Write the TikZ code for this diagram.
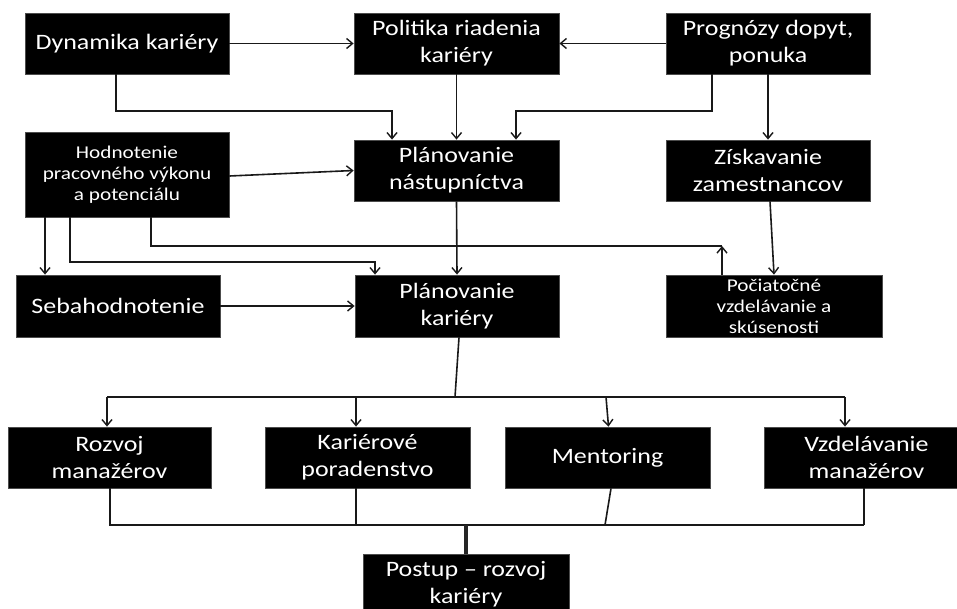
\documentclass[tikz,border=0pt]{standalone}
\usepackage{fontspec}
\setmainfont{Carlito}[FakeStretch=1.18]
\usetikzlibrary{arrows.meta}
\begin{document}
\begin{tikzpicture}[x=1pt,y=-1pt,
  box/.style={fill=black, draw=black!70, line width=0.8pt, text=white,
    inner sep=0pt, align=center, minimum width=205pt, minimum height=61pt,
    font=\fontsize{22}{27}\selectfont},
  smallbox/.style={box, font=\fontsize{18}{21}\selectfont},
  link/.style={draw=black!90, line width=1.6pt},
  arr/.style={link, -{Straight Barb[length=6pt,width=10pt,line width=1.4pt]}},
  bus/.style={draw=black!85, line width=3.2pt}]
\fill[white] (0,0) rectangle (957,609);
\clip (0,0) rectangle (957,609);

% first row
\node[box, minimum width=204pt] (dyn) at (127,43.5) {Dynamika kariéry};
\node[box] (pol) at (456.5,43.5) {Politika riadenia\\kariéry};
\node[box, minimum width=204pt] (prog) at (768,43.5) {Prognózy dopyt,\\ponuka};

% second row
\node[smallbox, minimum width=204pt, minimum height=85pt] (hod) at (127,174.5)
  {Hodnotenie\\pracovného výkonu\\a potenciálu};
\node[box] (plnas) at (456.5,170.5) {Plánovanie\\nástupníctva};
\node[box, minimum width=204pt] (zisk) at (768,170.5) {Získavanie\\zamestnancov};

% third row
\node[box, minimum width=204pt, minimum height=62pt] (seba) at (118,306) {Sebahodnotenie};
\node[box, minimum width=204pt, minimum height=62pt] (plkar) at (457,306) {Plánovanie\\kariéry};
\node[smallbox, minimum width=216pt, minimum height=62pt] (poc) at (774,306)
  {Počiatočné\\vzdelávanie a\\skúsenosti};

% fourth row
\node[box, minimum width=203pt] (rozv) at (109.5,457.5) {Rozvoj\\manažérov};
\node[box] (karp) at (367.5,457.5) {Kariérové\\poradenstvo};
\node[box] (ment) at (607.5,457.5) {Mentoring};
\node[box] (vzd) at (866.5,457.5) {Vzdelávanie\\manažérov};

% result
\node[box, minimum width=206pt] (post) at (466,584.5) {Postup – rozvoj\\kariéry};

% connectors of the upper part
\draw[arr] (dyn.east) -- (pol.west);
\draw[arr] (prog.west) -- (pol.east);
\draw[arr] ([xshift=-11pt]dyn.south) |- (392,111) -- ([xshift=-64.5pt]plnas.north);
\draw[arr] (pol.south) -- (plnas.north);
\draw[arr] ([xshift=-56pt]prog.south) |- (516,111) -- ([xshift=59.5pt]plnas.north);
\draw[arr] (prog.south) -- (zisk.north);
\draw[arr] ([yshift=-1.5pt]hod.east) -- (plnas.west);
\draw[arr] ([xshift=-82pt]hod.south) -- ([xshift=-73pt]seba.north);
\draw[arr] ([xshift=-57pt]hod.south) |- (375,262) -- ([xshift=-82pt]plkar.north);
\draw[link] ([xshift=24pt]hod.south) |- (722,246) coordinate (pj);
\draw[arr] ([xshift=-52pt]poc.north) -- (pj);
\draw[arr] (plnas.south) -- (plkar.north);
\draw[arr] ([xshift=2pt]zisk.south) -- (poc.north);
\draw[arr] (seba.east) -- (plkar.west);

% distribution to the fourth row
\draw[link] ([xshift=2pt]plkar.south) -- (455,397) coordinate (sp);
\draw[link] (107,397) -- (845,397);
\draw[arr] (107,397) -- ([xshift=-2.5pt]rozv.north);
\draw[arr] (356,397) -- ([xshift=-11.5pt]karp.north);
\draw[arr] (606,397) -- ([xshift=1pt]ment.north);
\draw[arr] (845,397) -- ([xshift=-21.5pt]vzd.north);

% collection into the result
\draw[link] ([xshift=0.5pt]rozv.south) |- (110,525) -- (864,525);
\draw[link] ([xshift=-11.5pt]karp.south) -- (356,525);
\draw[link] ([xshift=3.5pt]ment.south) -- (605,525);
\draw[link] ([xshift=-2.5pt]vzd.south) -- (864,525);
\draw[bus] (466,525) -- (post.north);
\end{tikzpicture}
\end{document}
